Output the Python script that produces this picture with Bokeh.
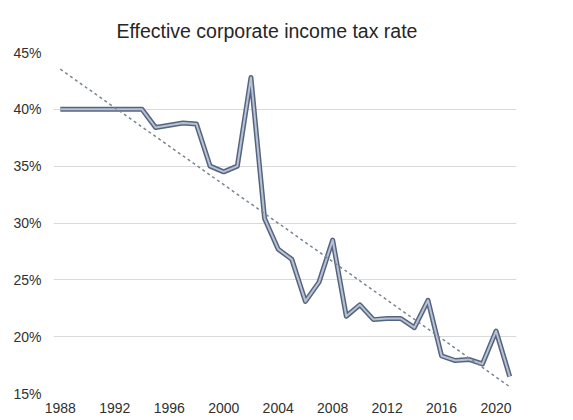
import numpy as np
from bokeh.plotting import figure
from bokeh.models import FixedTicker, PrintfTickFormatter, Range1d
from bokeh.embed import file_html
from bokeh.resources import INLINE

years = list(range(1988, 2022))
rates = [40.0, 40.0, 40.0, 40.0, 40.0, 40.0, 40.0,   # 1988-1994
         38.4, 38.6, 38.8, 38.7,                     # 1995-1998
         35.0, 34.5, 35.0, 42.8,                     # 1999-2002
         30.4, 27.7, 26.8, 23.1, 24.8, 28.5,         # 2003-2008
         21.8, 22.8, 21.5, 21.6, 21.6, 20.8,         # 2009-2014
         23.2, 18.3, 17.9, 18.0, 17.6, 20.5, 16.5]   # 2015-2021
x_ticks = [1988, 1992, 1996, 2000, 2004, 2008, 2012, 2016, 2020]
y_ticks = [15, 20, 25, 30, 35, 40, 45]

# linear trendline computed from the data
slope, intercept = np.polyfit(years, rates, 1)
trend_x = [years[0], years[-1]]
trend_y = [slope * x + intercept for x in trend_x]

FONT = "Liberation Sans"

p = figure(width=565, height=415, output_backend="svg", toolbar_location=None,
           x_range=Range1d(1987.5, 2021.5), y_range=Range1d(15, 45),
           min_border_left=53, min_border_right=49, min_border_top=52,
           min_border_bottom=18)
p.outline_line_color = None
p.background_fill_color = "white"
p.border_fill_color = "white"

p.title.text = "Effective corporate income tax rate"
p.title.text_font = FONT
p.title.text_font_size = "19.5px"
p.title.text_font_style = "normal"
p.title.text_color = "#262626"
p.title.align = "left"
p.title.offset = 63
p.title.standoff = 21

p.xgrid.grid_line_color = None
p.ygrid.grid_line_color = "#d9d9d9"
p.ygrid.grid_line_width = 1

p.xaxis.ticker = FixedTicker(ticks=x_ticks)
p.yaxis.ticker = FixedTicker(ticks=y_ticks)
p.yaxis.formatter = PrintfTickFormatter(format="%d%%")
for ax in (p.xaxis, p.yaxis):
    ax.axis_line_color = None
    ax.major_tick_line_color = None
    ax.minor_tick_line_color = None
    ax.major_tick_out = 0
    ax.major_tick_in = 0
    ax.minor_tick_out = 0
    ax.major_label_text_font = FONT
    ax.major_label_text_font_size = "14px"
    ax.major_label_text_color = "#303030"
p.yaxis.major_label_standoff = 12
p.xaxis.major_label_standoff = 9

# data line: dark outline with a lighter core
p.line(years, rates, line_color="#56657f", line_width=5, line_join="round")
p.line(years, rates, line_color="#b8c2d4", line_width=2, line_join="round")

# trendline
p.line(trend_x, trend_y, line_color="#7a8494", line_width=1.5, line_dash="3 3")

open("out.html", "w").write(file_html(p, INLINE))
